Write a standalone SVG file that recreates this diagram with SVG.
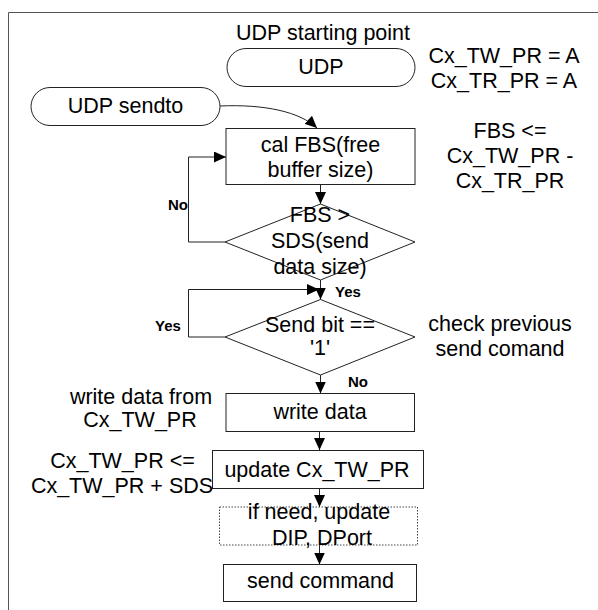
<svg xmlns="http://www.w3.org/2000/svg" width="598" height="610" viewBox="0 0 598 610">
<defs>
<marker id="arr" markerUnits="userSpaceOnUse" markerWidth="12" markerHeight="11" refX="12" refY="5.5" orient="auto">
<path d="M0,0 L12,5.5 L0,11 z" fill="#000"/>
</marker>
<style>
text{font-family:"Liberation Sans",Arial,sans-serif;font-size:21.5px;fill:#000;text-anchor:middle}
.lbl{font-size:15px;font-weight:bold;text-anchor:start}
.shape{fill:#fff;stroke:#222;stroke-width:1}
.dot{fill:#fff;stroke:#444;stroke-width:1;stroke-dasharray:1.5 1.5}
.conn{fill:none;stroke:#222;stroke-width:1;marker-end:url(#arr)}
.plain{fill:none;stroke:#222;stroke-width:1}
</style>
</defs>
<rect width="598" height="610" fill="#fff"/>
<path d="M8.5,610 V12.5 H598" fill="none" stroke="#555" stroke-width="1"/>

<g id="udp-start">
<text x="323" y="40">UDP starting point</text>
<rect class="shape" x="227" y="48.5" width="188" height="38" rx="19"/>
<text x="321" y="74">UDP</text>
</g>
<g id="note-init">
<text x="504" y="63">Cx_TW_PR = A</text>
<text x="504" y="88">Cx_TR_PR = A</text>
</g>
<g id="udp-sendto">
<rect class="shape" x="31" y="87.5" width="189" height="38" rx="19"/>
<text x="125.5" y="113">UDP sendto</text>
</g>
<g id="note-fbs">
<text x="510" y="138">FBS &lt;=</text>
<text x="510" y="163">Cx_TW_PR -</text>
<text x="510" y="188">Cx_TR_PR</text>
</g>

<g id="connectors">
<path class="conn" d="M220,106 C265,104 300,112 317,128"/>
<path class="conn" d="M320.5,184.5 V204"/>
<path class="conn" d="M225,242 H188.5 V157 H226"/>
<path class="conn" d="M320.5,280 V299.5"/>
<path class="conn" d="M225,337 H188.5 V289.5 H319"/>
<path class="conn" d="M320.5,375 V393.5"/>
<path class="conn" d="M319.5,432 V450"/>
<path class="conn" d="M319.5,488.5 V507"/>
<path class="conn" d="M319.5,545 V564.5"/>
</g>

<g id="cal-fbs">
<rect class="shape" x="226" y="128.5" width="189" height="56"/>
<text x="320.5" y="152">cal FBS(free</text>
<text x="320.5" y="177">buffer size)</text>
</g>
<g id="dec-fbs">
<path class="plain" d="M320.5,204 L415,242 L320.5,280 L225,242 Z"/>
<text x="320" y="222">FBS &gt;</text>
<text x="320" y="248">SDS(send</text>
<text x="320" y="274">data size)</text>
</g>
<g id="dec-sendbit">
<path class="plain" d="M320.5,299.5 L415,337 L320.5,375 L225,337 Z"/>
<text x="320" y="332">Send bit ==</text>
<text x="320" y="355">'1'</text>
</g>
<g id="note-check">
<text x="500" y="331">check previous</text>
<text x="500" y="356">send comand</text>
</g>
<g id="write-data">
<rect class="shape" x="226" y="393.5" width="188.5" height="38"/>
<text x="320" y="419">write data</text>
</g>
<g id="note-write">
<text x="141" y="404">write data from</text>
<text x="140" y="427">Cx_TW_PR</text>
</g>
<g id="update-tw">
<rect class="shape" x="212.5" y="450.5" width="211" height="38"/>
<text x="317" y="477">update Cx_TW_PR</text>
</g>
<g id="note-update">
<text x="122.5" y="468">Cx_TW_PR &lt;=</text>
<text x="122" y="493">Cx_TW_PR + SDS</text>
</g>
<g id="update-dip">
<rect class="dot" x="219.5" y="507" width="198" height="38" fill="none" style="fill:none"/>
<text x="319" y="519">if need, update</text>
<text x="322" y="545">DIP, DPort</text>
</g>
<g id="send-command">
<rect class="shape" x="223.5" y="564.5" width="193" height="37"/>
<text x="320.5" y="588">send command</text>
</g>

<g id="labels">
<text class="lbl" x="168" y="210">No</text>
<text class="lbl" x="335" y="297">Yes</text>
<text class="lbl" x="155" y="331">Yes</text>
<text class="lbl" x="348" y="387">No</text>
</g>
</svg>
